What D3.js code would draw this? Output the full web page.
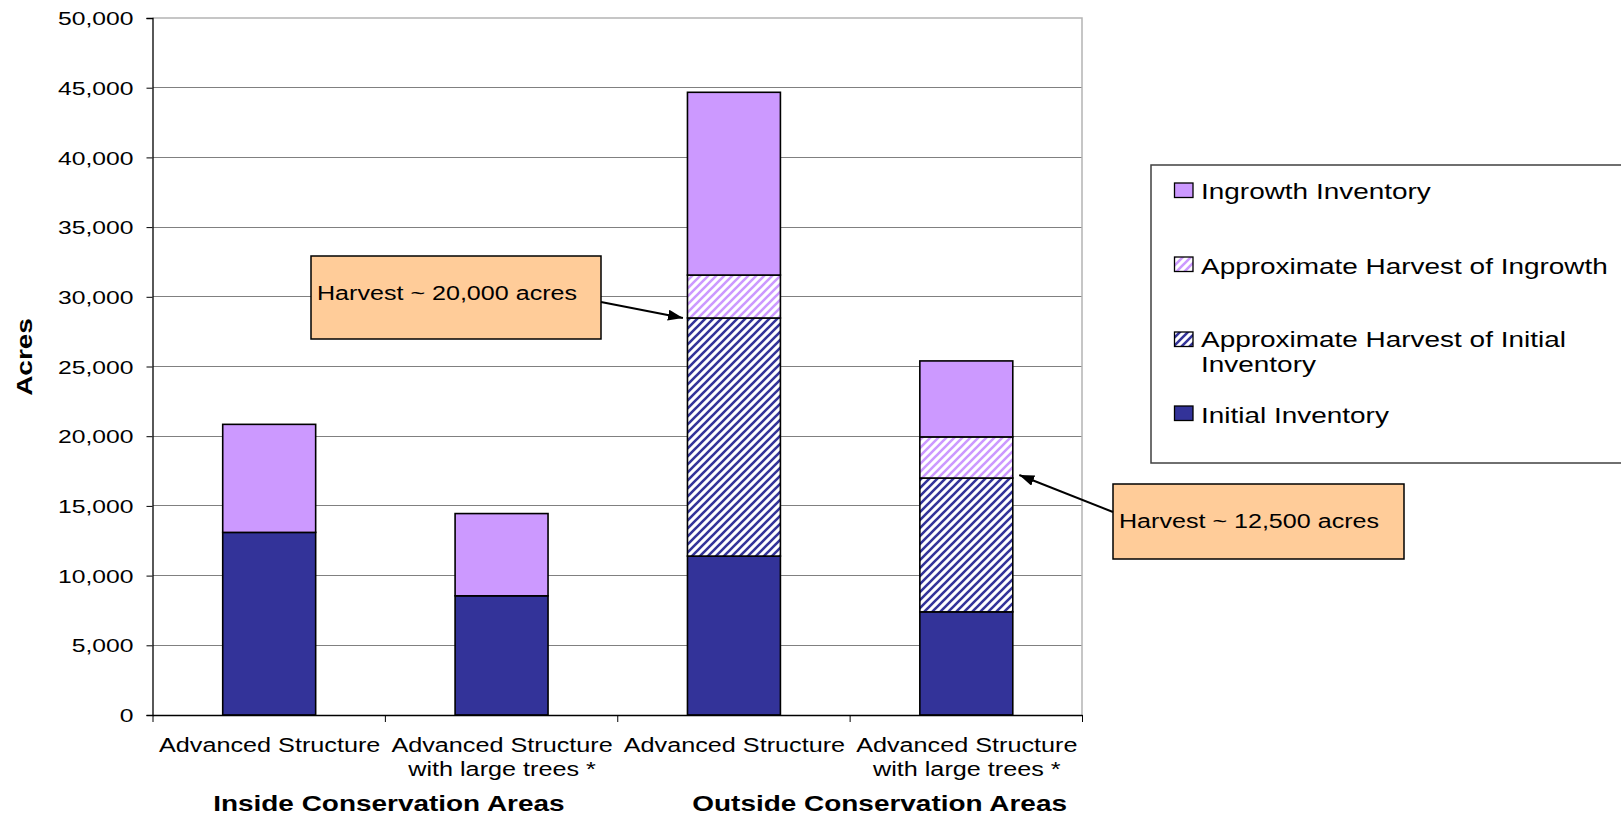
<!DOCTYPE html>
<html>
<head>
<meta charset="utf-8">
<script src="https://cdn.jsdelivr.net/npm/d3@7"></script>
<style>
  html, body { margin: 0; padding: 0; background: #fff; }
  svg { display: block; font-family: "Liberation Sans", Arial, sans-serif; }
</style>
</head>
<body>
<svg id="chart" width="1621" height="816"></svg>
<script>
// ---- data (acres) ----
const categories = [
  ["Advanced Structure"],
  ["Advanced Structure", "with large trees *"],
  ["Advanced Structure"],
  ["Advanced Structure", "with large trees *"]
];
const groups = ["Inside Conservation Areas", "Outside Conservation Areas"];
const initialInventory = [13100, 8550, 11400, 7400];
const harvestInitial   = [0, 0, 17080, 9600];
const harvestIngrowth  = [0, 0, 3080, 2950];
const ingrowthInventory = [7750, 5900, 13110, 5450];
const yTicks = [0, 5000, 10000, 15000, 20000, 25000, 30000, 35000, 40000, 45000, 50000];
const seriesNames = ["Initial Inventory", "Approximate Harvest of Initial Inventory",
                     "Approximate Harvest of Ingrowth", "Ingrowth Inventory"];
const callouts = ["Harvest ~ 20,000 acres", "Harvest ~ 12,500 acres"];

// ---- layout ----
const svg = d3.select("#chart");
const plotLeft = 152.5, plotRight = 1082, plotTop = 18, plotBottom = 715;
const STRETCH = 1.3; // wide lettering

const y = d3.scaleLinear().domain([0, 50000]).range([plotBottom, plotTop]);
const xb = d3.scaleLinear().domain([0, 4]).range([plotLeft, plotRight]);
const x = d3.scaleBand().domain(d3.range(4)).range([plotLeft, plotRight])
  .paddingInner(0.6).paddingOuter(0.3);

function wideText(g, str, px, py, size, opts = {}) {
  return g.append("text")
    .attr("transform", `translate(${px},${py}) rotate(${opts.rotate || 0}) scale(${STRETCH},1)`)
    .attr("text-anchor", opts.anchor || "start")
    .attr("font-size", size)
    .attr("font-weight", opts.weight || "normal")
    .attr("fill", "#000")
    .text(str);
}

// ---- patterns & markers ----
const defs = svg.append("defs");
function hatch(id, color) {
  const p = defs.append("pattern").attr("id", id)
    .attr("patternUnits", "userSpaceOnUse").attr("width", 8).attr("height", 8);
  p.append("rect").attr("width", 8).attr("height", 8).attr("fill", "#fff");
  p.append("path").attr("d", "M-2,2 L2,-2 M0,8 L8,0 M6,10 L10,6")
    .attr("stroke", color).attr("stroke-width", 2.6);
}
hatch("hatchInitial", "#333399");
hatch("hatchIngrowth", "#CC99FF");
defs.append("marker").attr("id", "arrow")
  .attr("markerUnits", "userSpaceOnUse")
  .attr("markerWidth", 15).attr("markerHeight", 11)
  .attr("refX", 15).attr("refY", 5.5).attr("orient", "auto")
  .append("path").attr("d", "M0,0 L15,5.5 L0,11 Z").attr("fill", "#000");

const fills = ["#333399", "url(#hatchInitial)", "url(#hatchIngrowth)", "#CC99FF"];

// ---- gridlines & plot frame ----
svg.append("g").selectAll("line").data(yTicks.filter(d => d > 0 && d < 50000)).join("line")
  .attr("x1", plotLeft).attr("x2", plotRight)
  .attr("y1", d => y(d)).attr("y2", d => y(d))
  .attr("stroke", "#808080").attr("shape-rendering", "crispEdges");
svg.append("path")
  .attr("d", `M${plotLeft},${y(50000)} H${plotRight} V${plotBottom}`)
  .attr("fill", "none").attr("stroke", "#b4b4b4").attr("stroke-width", 1.5);

// ---- stacked bars ----
const seriesData = [initialInventory, harvestInitial, harvestIngrowth, ingrowthInventory];
const rows = d3.range(4).map(i => {
  const r = { idx: i };
  seriesData.forEach((s, k) => r["s" + k] = s[i]);
  return r;
});
const stack = d3.stack().keys(["s0", "s1", "s2", "s3"])(rows);
const barG = svg.append("g");
stack.forEach((layer, k) => {
  barG.selectAll(null).data(layer.filter(d => d[1] - d[0] > 0)).join("rect")
    .attr("x", d => x(d.data.idx) + 0.5)
    .attr("width", x.bandwidth())
    .attr("y", d => y(d[1]))
    .attr("height", d => y(d[0]) - y(d[1]))
    .attr("fill", fills[k])
    .attr("stroke", "#000").attr("stroke-width", 1.6);
});

// ---- axes ----
const yAxis = svg.append("g").attr("transform", `translate(${plotLeft},0)`)
  .call(d3.axisLeft(y).tickValues(yTicks).tickSize(6).tickFormat(d3.format(",")));
yAxis.select(".domain").attr("stroke", "#000").attr("stroke-width", 1.3);
yAxis.selectAll(".tick line").attr("stroke", "#000");
yAxis.selectAll(".tick text")
  .attr("x", null).attr("dy", "0.35em")
  .attr("transform", `translate(-19,0) scale(${STRETCH},1)`)
  .attr("font-size", 19).attr("font-family", null).attr("fill", "#000");

const xAxis = svg.append("g").attr("transform", `translate(0,${plotBottom})`)
  .call(d3.axisBottom(xb).tickValues([0, 1, 2, 3, 4]).tickSize(7).tickSizeOuter(0).tickFormat(""));
xAxis.select(".domain").attr("stroke", "#000").attr("stroke-width", 1.3);
xAxis.selectAll(".tick line").attr("stroke", "#000");

// category labels
const catG = svg.append("g");
categories.forEach((lines, i) => {
  lines.forEach((ln, j) => {
    wideText(catG, ln, x(i) + x.bandwidth() / 2 + 1, 752 + j * 24, 19.4, { anchor: "middle" });
  });
});
// group labels
wideText(svg, groups[0], xb(1) + 4, 811, 21.5, { anchor: "middle", weight: "bold" });
wideText(svg, groups[1], xb(3) + 30, 811, 21.5, { anchor: "middle", weight: "bold" });

// y title
wideText(svg, "Acres", 32, 357, 21.5, { anchor: "middle", weight: "bold", rotate: -90 });

// ---- callouts ----
const c1 = svg.append("g");
c1.append("rect").attr("x", 311).attr("y", 256).attr("width", 290).attr("height", 83)
  .attr("fill", "#FFCC99").attr("stroke", "#000").attr("stroke-width", 1.5);
wideText(c1, callouts[0], 317, 300, 19.3);
c1.append("line").attr("x1", 601).attr("y1", 302)
  .attr("x2", x(2) - 4).attr("y2", y(initialInventory[2] + harvestInitial[2]))
  .attr("stroke", "#000").attr("stroke-width", 2).attr("marker-end", "url(#arrow)");

const c2 = svg.append("g");
c2.append("rect").attr("x", 1113).attr("y", 484).attr("width", 291).attr("height", 75)
  .attr("fill", "#FFCC99").attr("stroke", "#000").attr("stroke-width", 1.5);
wideText(c2, callouts[1], 1119, 528, 19.3);
c2.append("line").attr("x1", 1113).attr("y1", 512)
  .attr("x2", x(3) + x.bandwidth() + 7).attr("y2", y(initialInventory[3] + harvestInitial[3]) - 3)
  .attr("stroke", "#000").attr("stroke-width", 2).attr("marker-end", "url(#arrow)");

// ---- legend ----
const lg = svg.append("g");
lg.append("rect").attr("x", 1151).attr("y", 165).attr("width", 600).attr("height", 298)
  .attr("fill", "#fff").attr("stroke", "#404040").attr("stroke-width", 1.5);
const legendItems = [
  { k: 3, lines: ["Ingrowth Inventory"], sy: 183, by: 199 },
  { k: 2, lines: ["Approximate Harvest of Ingrowth"], sy: 257, by: 274 },
  { k: 1, lines: ["Approximate Harvest of Initial", "Inventory"], sy: 332, by: 347 },
  { k: 0, lines: ["Initial Inventory"], sy: 406, by: 423 }
];
legendItems.forEach(it => {
  lg.append("rect").attr("x", 1174.5).attr("y", it.sy).attr("width", 18.5).attr("height", 14.5)
    .attr("fill", fills[it.k]).attr("stroke", "#000").attr("stroke-width", 1.3);
  it.lines.forEach((ln, j) => wideText(lg, ln, 1201, it.by + j * 25, 21.5));
});
</script>
</body>
</html>
